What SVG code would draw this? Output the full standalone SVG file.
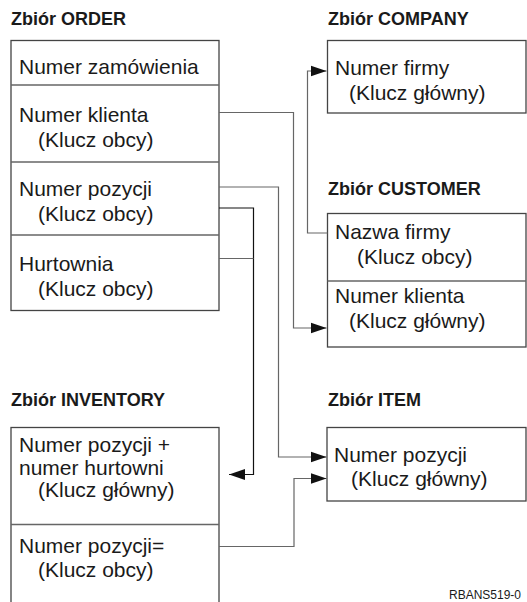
<svg xmlns="http://www.w3.org/2000/svg" width="527" height="602" viewBox="0 0 527 602">
<style>
.t{font-family:"Liberation Sans",Arial,sans-serif;font-weight:bold;font-size:18px;fill:#1a1a1a}
.b{font-family:"Liberation Sans",Arial,sans-serif;font-size:21px;fill:#1a1a1a}
.s{font-family:"Liberation Sans",Arial,sans-serif;font-size:12px;fill:#1a1a1a}
.box{fill:#fff;stroke:#444;stroke-width:1.3}
.div{stroke:#666;stroke-width:1.3}
.c{fill:none;stroke:#666;stroke-width:1.2}
.k{fill:none;stroke:#111;stroke-width:1.2}
</style>
<defs>
<marker id="ah" markerWidth="16" markerHeight="12" refX="16" refY="6" orient="auto" markerUnits="userSpaceOnUse"><path d="M0,0.5 L16,6 L0,11.5 z" fill="#111"/></marker>
</defs>
<rect width="527" height="602" fill="#fff"/>

<g id="order">
<text class="t" x="11" y="25">Zbiór ORDER</text>
<rect class="box" x="11" y="40.5" width="208" height="270"/>
<line class="div" x1="11" y1="85" x2="219" y2="85"/>
<line class="div" x1="11" y1="162" x2="219" y2="162"/>
<line class="div" x1="11" y1="235" x2="219" y2="235"/>
<text class="b" x="19" y="74">Numer zamówienia</text>
<text class="b" x="19" y="122">Numer klienta</text>
<text class="b" x="38" y="147">(Klucz obcy)</text>
<text class="b" x="19" y="196">Numer pozycji</text>
<text class="b" x="38" y="221">(Klucz obcy)</text>
<text class="b" x="19" y="271">Hurtownia</text>
<text class="b" x="38" y="296">(Klucz obcy)</text>
</g>

<g id="company">
<text class="t" x="328" y="25">Zbiór COMPANY</text>
<rect class="box" x="327.5" y="40.5" width="198.5" height="72.5"/>
<text class="b" x="335" y="75">Numer firmy</text>
<text class="b" x="349" y="100">(Klucz główny)</text>
</g>

<g id="customer">
<text class="t" x="328" y="195">Zbiór CUSTOMER</text>
<rect class="box" x="327.5" y="213.5" width="198.5" height="133.5"/>
<line class="div" x1="327.5" y1="281" x2="526" y2="281"/>
<text class="b" x="335" y="239">Nazwa firmy</text>
<text class="b" x="357" y="264">(Klucz obcy)</text>
<text class="b" x="335" y="303">Numer klienta</text>
<text class="b" x="349" y="328">(Klucz główny)</text>
</g>

<g id="inventory">
<text class="t" x="11" y="406">Zbiór INVENTORY</text>
<rect class="box" x="11" y="427.5" width="208" height="185"/>
<line class="div" x1="11" y1="524.5" x2="219" y2="524.5"/>
<text class="b" x="19" y="452">Numer pozycji +</text>
<text class="b" x="19" y="475">numer hurtowni</text>
<text class="b" x="38" y="497">(Klucz główny)</text>
<text class="b" x="19" y="553">Numer pozycji=</text>
<text class="b" x="38" y="577">(Klucz obcy)</text>
</g>

<g id="item">
<text class="t" x="328" y="406">Zbiór ITEM</text>
<rect class="box" x="327" y="427.5" width="199" height="73.5"/>
<text class="b" x="334" y="462">Numer pozycji</text>
<text class="b" x="351" y="486">(Klucz główny)</text>
</g>

<g id="connectors">
<path class="c" d="M219,112.5 H293.5 V328 H326.5" marker-end="url(#ah)"/>
<path class="c" d="M219,187 H278.5 V457 H326.5" marker-end="url(#ah)"/>
<path class="k" d="M219,208 H253.5 V474.5 H229" marker-end="url(#ah)"/>
<path class="c" d="M219,258.5 H253.5"/>
<path class="c" d="M327.5,233 H307.5 V71 H326.5" marker-end="url(#ah)"/>
<path class="c" d="M219,546.5 H294 V478.5 H326.5" marker-end="url(#ah)"/>
</g>

<text class="s" x="449" y="599">RBANS519-0</text>
</svg>
